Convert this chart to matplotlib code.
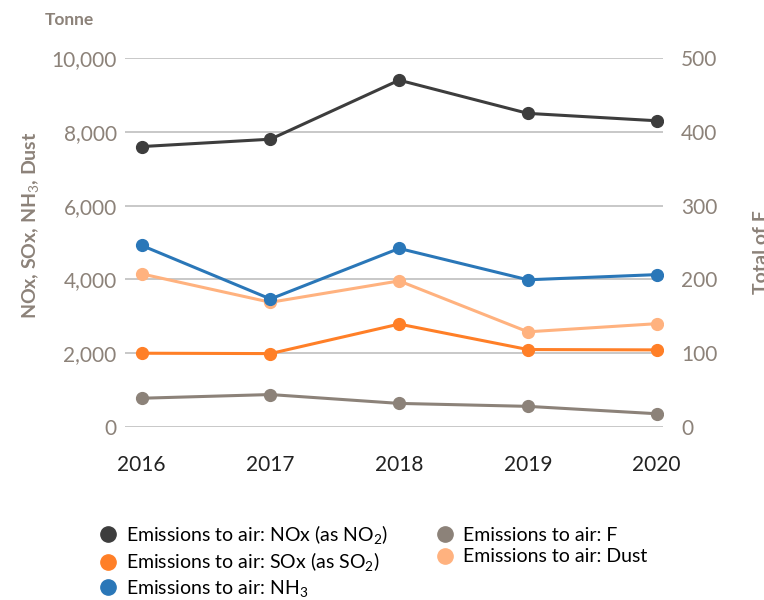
import matplotlib
matplotlib.use("Agg")
import matplotlib.pyplot as plt
from matplotlib.lines import Line2D

plt.rcParams['font.family'] = ['Lato', 'DejaVu Sans']
plt.rcParams['mathtext.fontset'] = 'custom'
plt.rcParams['mathtext.rm'] = 'Lato'
plt.rcParams['mathtext.it'] = 'Lato'
plt.rcParams['mathtext.bf'] = 'Lato:bold'

years = ['2016', '2017', '2018', '2019', '2020']
nox = [7600, 7800, 9400, 8500, 8300]
nh3 = [4920, 3470, 4840, 3990, 4130]
dust = [4150, 3380, 3960, 2580, 2800]
sox = [2000, 1990, 2790, 2100, 2090]
fluor = [39, 44, 32, 28, 18]

labels = ['Emissions to air: NOx (as NO$_2$)', 'Emissions to air: SOx (as SO$_2$)',
          'Emissions to air: NH$_3$', 'Emissions to air: F', 'Emissions to air: Dust']
colors = ['#3d3d3d', '#ff7f27', '#2a77b8', '#8c8279', '#ffb27f']
grey = '#8c8279'

x = range(len(years))

fig = plt.figure(figsize=(7.64, 6), dpi=100)
ax = fig.add_axes([0.1636, 0.2883, 0.7042, 0.615])
ax2 = ax.twinx()

ax.set_ylim(0, 10000)
ax2.set_ylim(0, 500)
ax.set_xlim(-0.13, 4.05)
ax.set_yticks(range(0, 10001, 2000))
ax2.set_yticks(range(0, 501, 100))
ax.set_yticklabels([f'{v:,}' for v in range(0, 10001, 2000)])
ax.set_xticks(list(x))
ax.set_xticklabels(years)

for v in range(0, 10001, 2000):
    ax.axhline(v, color='#c4c4c4', lw=1.3, zorder=0)

for a in (ax, ax2):
    for s in a.spines.values():
        s.set_visible(False)
ax.tick_params(axis='y', length=0, pad=6, labelsize=15, labelcolor=grey)
ax2.tick_params(axis='y', length=0, pad=13, labelsize=15, labelcolor=grey)
ax.tick_params(axis='x', length=0, pad=20, labelsize=15, labelcolor='#222222')

kw = dict(lw=2.2, marker='o', markersize=8.5)
ax.plot(x, nox, color=colors[0], zorder=5, **kw)
ax.plot(x, dust, color=colors[4], zorder=3, **kw)
ax.plot(x, sox, color=colors[1], zorder=4, **kw)
ax.plot(x, nh3, color=colors[2], zorder=4, **kw)
ax2.plot(x, fluor, color=colors[3], **kw)
ax.set_zorder(ax2.get_zorder() + 1)
ax.patch.set_visible(False)

fig.text(0.059, 0.958, 'Tonne', fontsize=12.5, fontweight='bold', color=grey)
fig.text(0.040, 0.625, 'NOx, SOx, NH$_3$, Dust', rotation=90, fontsize=14,
         fontweight='bold', color=grey, ha='center', va='center')
fig.text(0.997, 0.58, 'Total of F', rotation=90, fontsize=14,
         fontweight='bold', color=grey, ha='center', va='center')

handles = [Line2D([], [], ls='none', marker='o', markersize=11, color=c) for c in colors]
fig.legend(handles, labels, ncol=2,
           loc='upper left', bbox_to_anchor=(0.118, 0.141), frameon=False,
           fontsize=14, handlelength=1.0, handletextpad=0.45, columnspacing=2.4,
           labelspacing=0.22, borderaxespad=0)

fig.savefig('out.png', dpi=100)
